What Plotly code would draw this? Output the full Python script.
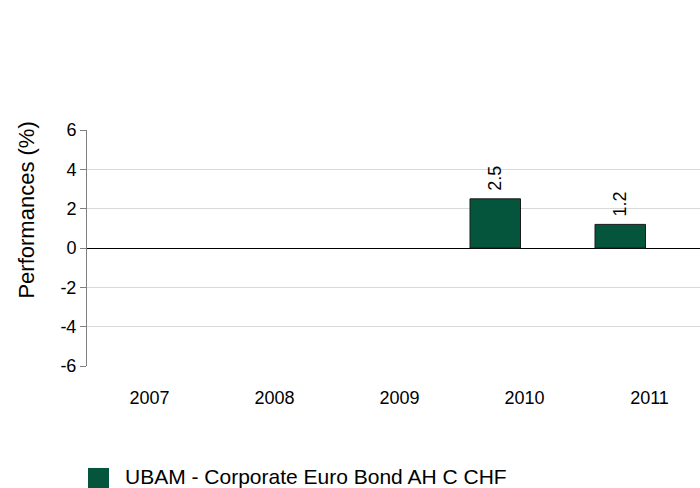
import plotly.graph_objects as go

# Calendar-year performance of the fund
years = ["2007", "2008", "2009", "2010", "2011"]
performance = [None, None, None, 2.5, 1.2]
series_name = "UBAM - Corporate Euro Bond AH C CHF"
axis_title = "Performances (%)"
bar_color = "#04553B"

y_ticks = [-6, -4, -2, 0, 2, 4, 6]

fig = go.Figure()
fig.add_trace(go.Bar(
    x=years,
    y=performance,
    name=series_name,
    marker=dict(color=bar_color, line=dict(color="#1a1a1a", width=1)),
    width=0.404,
    offset=-0.436,
    # a leading no-break space keeps the rotated value clear of the bar top
    text=[None if v is None else "\u00a0" + f"{v:.1f}" for v in performance],
    textposition="outside",
    textangle=-90,
    textfont=dict(family="Liberation Sans, Arial, sans-serif", size=18, color="#000000"),
    cliponaxis=False,
    showlegend=False,
))

fig.update_layout(
    width=700,
    height=488,
    margin=dict(l=87, r=0, t=130, b=122),
    paper_bgcolor="#ffffff",
    plot_bgcolor="#ffffff",
    font=dict(family="Liberation Sans, Arial, sans-serif", size=18, color="#000000"),
    xaxis=dict(
        type="category",
        range=[-0.5, 4.404],
        showgrid=False,
        showline=False,
        zeroline=False,
        ticks="outside",
        ticklen=15,
        tickcolor="rgba(0,0,0,0)",
        tickfont=dict(size=18),
    ),
    yaxis=dict(
        range=[-6, 6],
        tickvals=y_ticks,
        ticktext=[str(v) for v in y_ticks],
        showgrid=True,
        gridcolor="#d9d9d9",
        gridwidth=1,
        zeroline=True,
        zerolinecolor="#000000",
        zerolinewidth=1,
        showline=True,
        linecolor="#808080",
        linewidth=1,
        ticks="outside",
        ticklen=6,
        tickcolor="#808080",
        tickfont=dict(size=18),
    ),
    showlegend=False,
)

# Vertical axis title, centred on the upper part of the chart
fig.add_annotation(xref="paper", yref="paper", x=-0.099, y=0.66,
                   text=axis_title, textangle=-90, showarrow=False,
                   xanchor="center", yanchor="middle",
                   font=dict(size=22, color="#000000"))

# Legend swatch and label below the plot
fig.add_shape(type="rect", xref="paper", yref="paper",
              x0=0.0016, x1=0.0359, y0=-0.521, y1=-0.432,
              fillcolor=bar_color, line=dict(width=0))
fig.add_annotation(xref="paper", yref="paper", x=0.058, y=-0.468,
                   text=series_name, showarrow=False, xanchor="left", yanchor="middle",
                   font=dict(size=21, color="#000000"))

fig.write_html("out.html")
